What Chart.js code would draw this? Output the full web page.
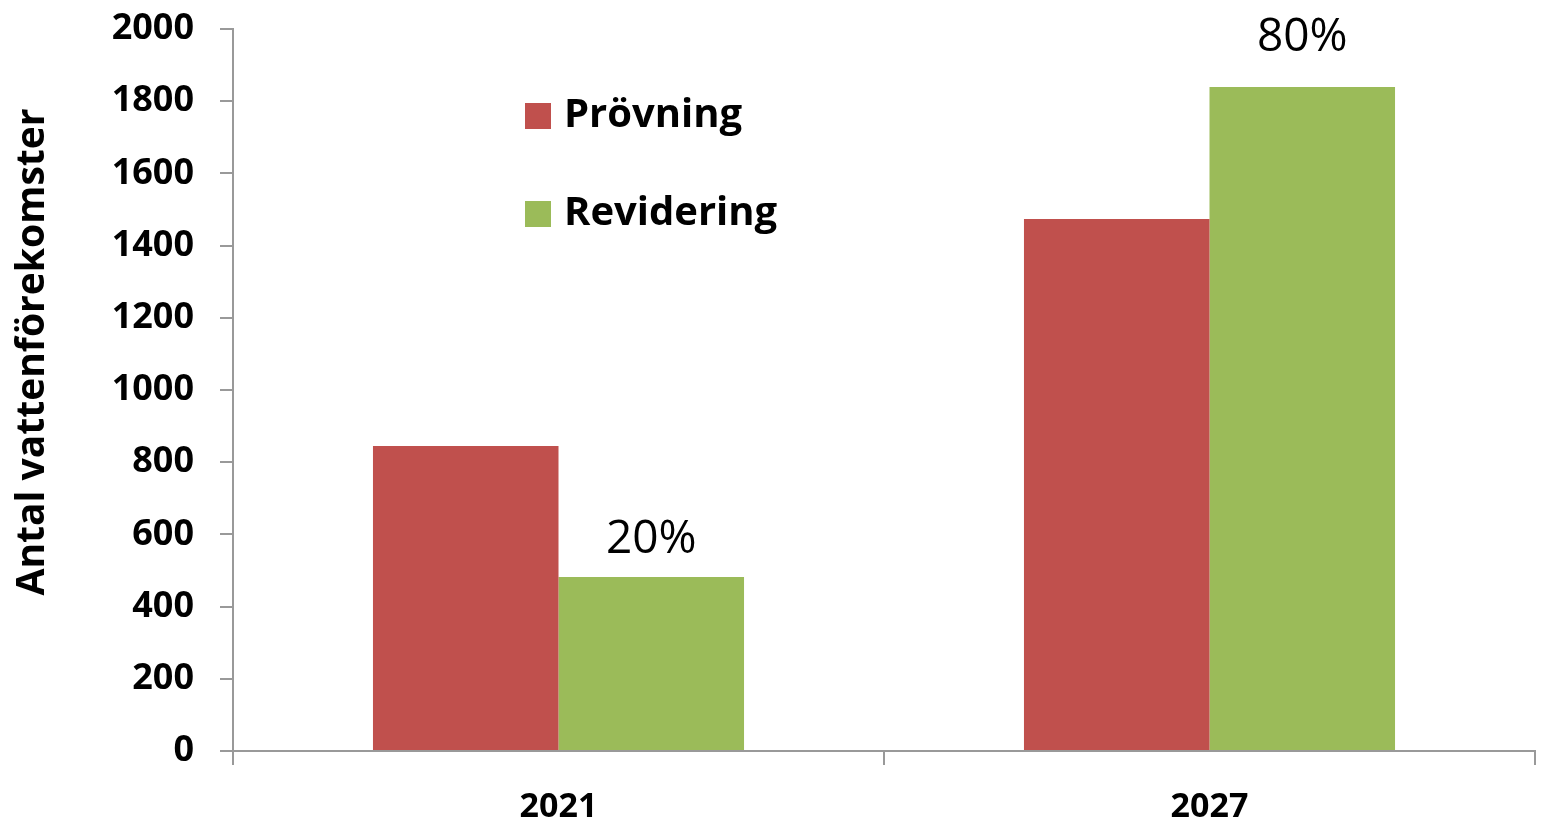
<!DOCTYPE html>
<html>
<head>
<meta charset="utf-8">
<script src="https://cdn.jsdelivr.net/npm/chart.js@4/dist/chart.umd.min.js"></script>
<style>
  html, body { margin: 0; padding: 0; background: #fff; }
  #wrap { width: 1563px; height: 825px; }
</style>
</head>
<body>
<div id="wrap"><canvas id="chart" width="1563" height="825"></canvas></div>
<script>
const years = ['2021', '2027'];
const provning = [845, 1474];
const revidering = [482, 1839];
const revideringPct = ['20%', '80%'];
const yTicks = [0, 200, 400, 600, 800, 1000, 1200, 1400, 1600, 1800, 2000];
const yTitle = 'Antal vattenförekomster';

const RED = '#c0504d';
const GREEN = '#9bbb59';
const AXIS = '#999999';

// legend inside the plot, y title, percent labels over the green bars
const extras = {
    id: 'extras',
    afterDraw(chart) {
        const ctx = chart.ctx;
        ctx.save();
        // legend
        const items = chart.data.datasets.map(d => ({ text: d.label, color: d.backgroundColor }));
        items.forEach((it, i) => {
            const y = 116 + i * 98;
            ctx.fillStyle = it.color;
            ctx.fillRect(525, y - 13, 26, 26);
            ctx.fillStyle = '#000';
            ctx.font = 'bold 40px "Open Sans"';
            ctx.textBaseline = 'middle';
            ctx.textAlign = 'left';
            ctx.fillText(it.text, 564, y);
        });
        // y title
        ctx.save();
        ctx.translate(33, 352);
        ctx.rotate(-Math.PI / 2);
        ctx.font = 'bold 39px "Open Sans"';
        ctx.textAlign = 'center';
        ctx.textBaseline = 'middle';
        ctx.fillText(yTitle, 0, 0);
        ctx.restore();
        // percent labels
        const meta = chart.getDatasetMeta(1);
        ctx.font = '46px "Open Sans"';
        ctx.textAlign = 'center';
        ctx.textBaseline = 'bottom';
        ctx.fillStyle = '#000';
        const gaps = [14, 26];
        meta.data.forEach((bar, i) => {
            ctx.fillText(revideringPct[i], bar.x, bar.y - gaps[i]);
        });
        ctx.restore();
    }
};

new Chart(document.getElementById('chart'), {
    type: 'bar',
    data: {
        labels: years,
        datasets: [
            { label: 'Prövning', data: provning, backgroundColor: RED },
            { label: 'Revidering', data: revidering, backgroundColor: GREEN }
        ]
    },
    options: {
        responsive: false,
        animation: false,
        layout: { padding: { left: 8, top: 29, right: 28, bottom: 0 } },
        datasets: { bar: { categoryPercentage: 0.57, barPercentage: 1.0 } },
        plugins: {
            legend: { display: false },
            tooltip: { enabled: false }
        },
        scales: {
            x: {
                grid: { offset: true, drawOnChartArea: false, drawTicks: true, tickLength: 14, color: AXIS, lineWidth: 2 },
                border: { color: AXIS, width: 2 },
                ticks: { color: '#000', font: { family: '"Open Sans"', weight: 'bold', size: 34 }, padding: 22 },
                afterFit(scale) {
                    scale.height = 74;
                    scale.paddingLeft = 0;
                    scale.paddingRight = 0;
                }
            },
            y: {
                min: 0,
                max: 2000,
                afterBuildTicks(scale) { scale.ticks = yTicks.map(v => ({ value: v })); },
                grid: { drawOnChartArea: false, drawTicks: true, tickLength: 13, color: AXIS, lineWidth: 2 },
                border: { color: AXIS, width: 2 },
                ticks: {
                    color: '#000',
                    font: { family: '"Open Sans"', weight: 'bold', size: 36 },
                    padding: 26,
                    callback: v => String(v)
                },
                afterFit(scale) {
                    scale.width = 225;
                    scale.paddingTop = 0;
                    scale.paddingBottom = 0;
                }
            }
        }
    },
    plugins: [extras]
});
</script>
</body>
</html>
